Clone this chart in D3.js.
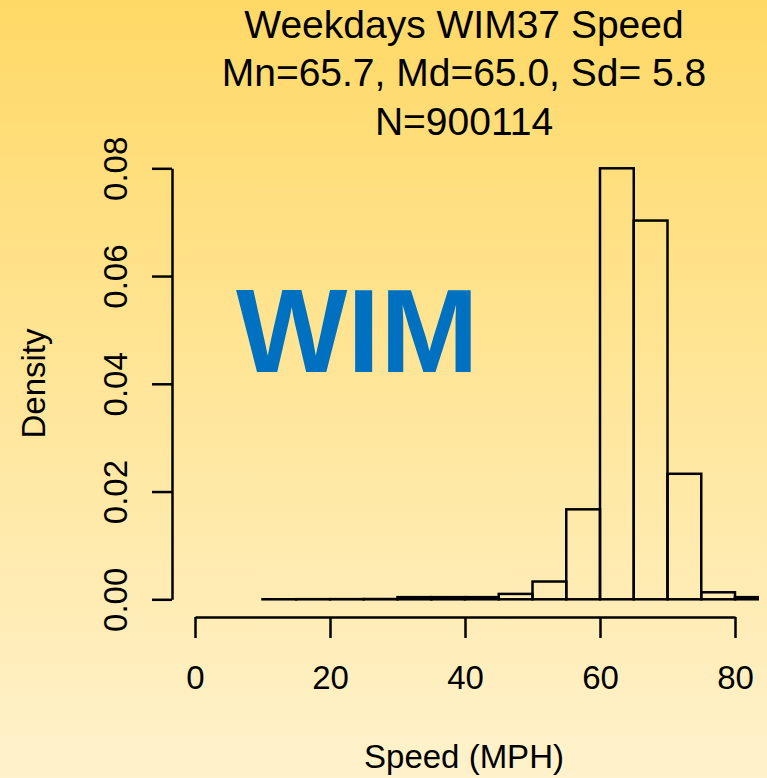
<!DOCTYPE html>
<html>
<head>
<meta charset="utf-8">
<script src="https://cdn.jsdelivr.net/npm/d3@7"></script>
<style>
  html, body { margin: 0; padding: 0; }
  body { width: 767px; height: 778px; overflow: hidden; }
  text { font-family: 'Liberation Sans', Arial, sans-serif; fill: #000; }
</style>
</head>
<body>
<div id="chart"></div>
<script>
// histogram bins (mph) and densities
const breaks = [10, 15, 20, 25, 30, 35, 40, 45, 50, 55, 60, 65, 70, 75, 80, 85]
const densities = [0.00001, 0.00002, 0.00003, 0.00005, 0.0004, 0.0004, 0.0004, 0.001, 0.0033, 0.0167, 0.08, 0.0703, 0.0233, 0.0013, 0.0004]
const xTicks = [0, 20, 40, 60, 80]
const yTicks = [0, 0.02, 0.04, 0.06, 0.08]
const titleLines = ['Weekdays WIM37 Speed', 'Mn=65.7, Md=65.0, Sd= 5.8', 'N=900114']

const bins = densities.map((d, i) => ({x0: breaks[i], x1: breaks[i + 1], density: d}))

const width = 767
const height = 778

const svg = d3.select('#chart')
  .append('svg')
  .attr('width', width)
  .attr('height', height)

// background gradient
const grad = svg.append('defs')
  .append('linearGradient')
  .attr('id', 'bg')
  .attr('x1', 0).attr('y1', 0).attr('x2', 0).attr('y2', 1)
grad.append('stop').attr('offset', '0%').attr('stop-color', '#FFD966')
grad.append('stop').attr('offset', '100%').attr('stop-color', '#FFF2CC')
svg.append('rect')
  .attr('width', width)
  .attr('height', height)
  .attr('fill', 'url(#bg)')

const x = d3.scaleLinear().domain([0, 80]).range([195, 735])
const y = d3.scaleLinear().domain([0, 0.08]).range([599.3, 168.3])

// plot region clip (R pads the range by 4%)
svg.select('defs').append('clipPath')
  .attr('id', 'plotClip')
  .append('rect')
  .attr('x', x(-3.4))
  .attr('y', 0)
  .attr('width', x(83.55) - x(-3.4))
  .attr('height', height)

svg.append('g')
  .attr('clip-path', 'url(#plotClip)')
  .selectAll('rect')
  .data(bins)
  .enter()
  .append('rect')
  .attr('x', d => x(d.x0))
  .attr('y', d => y(d.density))
  .attr('width', d => x(d.x1) - x(d.x0))
  .attr('height', d => y(0) - y(d.density))
  .attr('fill', 'none')
  .attr('stroke', '#000')
  .attr('stroke-width', 2.5)

// x axis
const xAxisG = svg.append('g')
  .attr('transform', 'translate(0,617)')
  .call(d3.axisBottom(x).tickValues(xTicks).tickSize(21).tickSizeOuter(0).tickFormat(d3.format('d')))
xAxisG.select('.domain').attr('stroke', '#000').attr('stroke-width', 2.5)
xAxisG.selectAll('.tick line').attr('stroke', '#000').attr('stroke-width', 2.5)
xAxisG.selectAll('.tick text')
  .attr('y', 72)
  .attr('dy', 0)
  .attr('font-size', 33)
  .attr('font-family', null)

// y axis
const yAxisG = svg.append('g')
  .attr('transform', 'translate(172,0)')
  .call(d3.axisLeft(y).tickValues(yTicks).tickSize(20).tickSizeOuter(0).tickFormat(d3.format('.2f')))
yAxisG.select('.domain').attr('stroke', '#000').attr('stroke-width', 2.5)
yAxisG.selectAll('.tick line').attr('stroke', '#000').attr('stroke-width', 2.5)
yAxisG.selectAll('.tick text')
  .attr('transform', 'rotate(-90)')
  .attr('x', 0)
  .attr('y', -45)
  .attr('dy', 0)
  .attr('text-anchor', 'middle')
  .attr('font-size', 33)
  .attr('font-family', null)

// titles
svg.append('g')
  .selectAll('text')
  .data(titleLines)
  .enter()
  .append('text')
  .attr('x', 464)
  .attr('y', (d, i) => 37.7 + i * 48.7)
  .attr('text-anchor', 'middle')
  .attr('font-size', 39)
  .text(d => d)

svg.append('text')
  .attr('x', 464)
  .attr('y', 768)
  .attr('text-anchor', 'middle')
  .attr('font-size', 33)
  .text('Speed (MPH)')

svg.append('text')
  .attr('transform', 'translate(45,383.5) rotate(-90)')
  .attr('text-anchor', 'middle')
  .attr('font-size', 33)
  .text('Density')

// WIM watermark
svg.append('text')
  .attr('x', 236)
  .attr('y', 372)
  .attr('font-size', 118)
  .attr('font-weight', 'bold')
  .style('fill', '#0070C0')
  .text('WIM')
</script>
</body>
</html>
